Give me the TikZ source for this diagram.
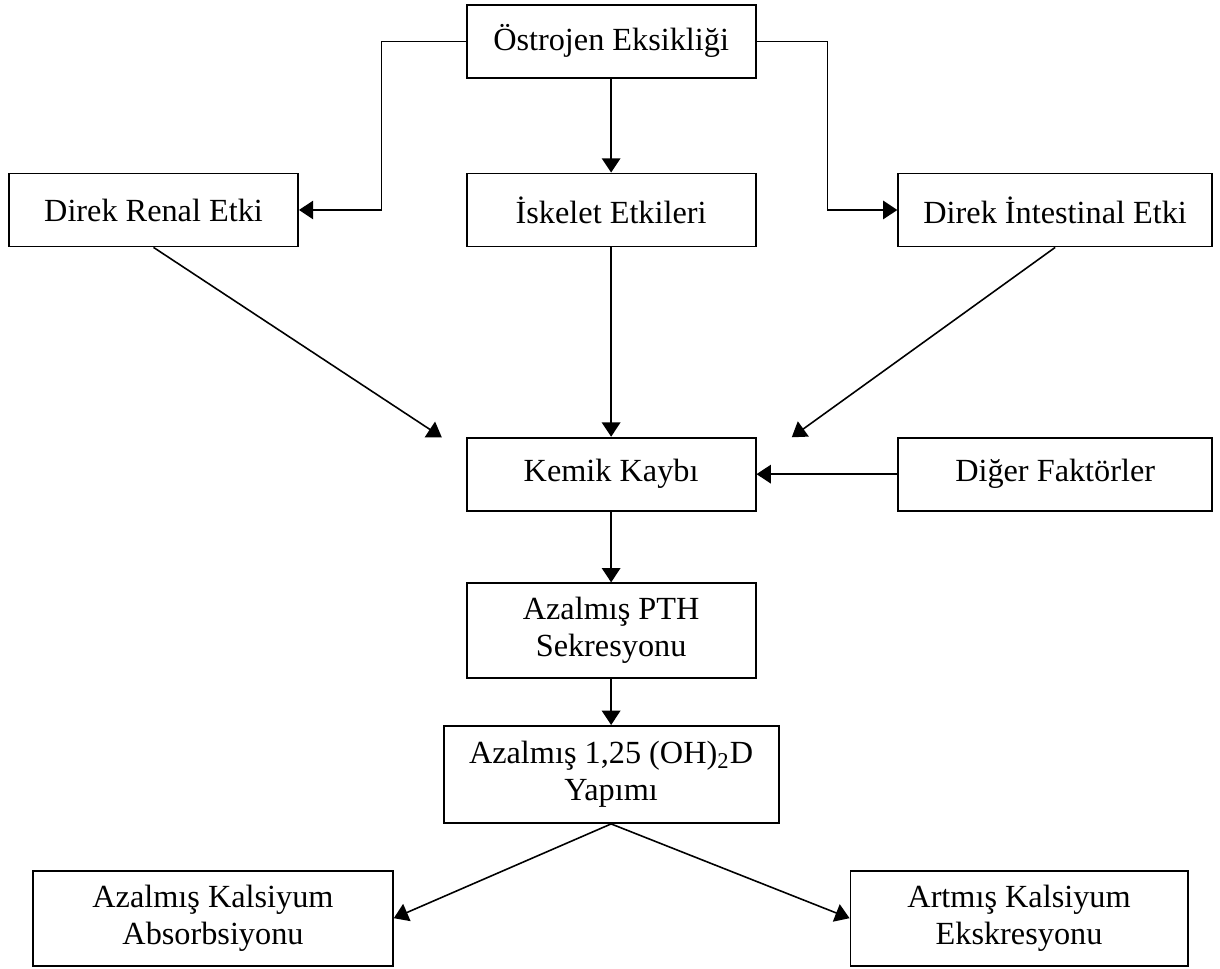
\documentclass[tikz,border=0pt]{standalone}
\usepackage{fontspec}
\setmainfont{Liberation Serif}
\usetikzlibrary{arrows.meta, positioning, calc}

\begin{document}
\begin{tikzpicture}[
    box/.style={draw, line width=0.7pt, minimum width=3.84cm, minimum height=0.97cm, align=center, inner sep=2pt},
    widebox/.style={box, minimum width=4.17cm},
    tallbox/.style={box, minimum height=1.26cm},
    arr/.style={-{Triangle[length=5.4pt, width=7pt]}, line width=0.6pt},
    every node/.style={font=\fontsize{12.2}{14}\selectfont}
  ]

    %% ── page frame (1220 x 969 px) ──
    \useasboundingbox (0,0) rectangle (16.21,-12.87);

    %% ── top row ──
    \node[box] (ostrojen) at (8.12, -0.55) {Östrojen Eksikliği};

    %% ── effects ──
    \node[box]     (renal)      at (2.04,  -2.79) {Direk Renal Etki};
    \node[box]     (iskelet)    at (8.12,  -2.79) {İskelet Etkileri};
    \node[widebox] (intestinal) at (14.02, -2.79) {Direk İntestinal Etki};

    %% ── bone loss ──
    \node[box]     (kemik) at (8.12,  -6.30) {Kemik Kaybı};
    \node[widebox] (diger) at (14.02, -6.30) {Diğer Faktörler};

    %% ── hormonal chain ──
    \node[tallbox] (pth) at (8.12, -8.38) {Azalmış PTH\\Sekresyonu};
    \node[tallbox, minimum width=4.45cm, minimum height=1.29cm] (yapim) at (8.12, -10.29)
      {Azalmış 1,25 (OH)\textsubscript{2}D\\Yapımı};

    %% ── outcomes ──
    \node[tallbox, minimum width=4.78cm] (absorb) at (2.83,  -12.20) {Azalmış Kalsiyum\\Absorbsiyonu};
    \node[tallbox, minimum width=4.48cm] (ekskr)  at (13.54, -12.20) {Artmış Kalsiyum\\Ekskresyonu};

    %% free arrow ends above Kemik Kaybı
    \coordinate (renalend) at (5.87, -5.81);
    \coordinate (intend)   at (10.52, -5.81);

    %% ═══════ ARROWS ═══════
    \draw[arr] (ostrojen.west) -- ++(-1.12,0) |- (renal.east);
    \draw[arr] (ostrojen.east) -- ++(0.94,0) |- (intestinal.west);
    \draw[arr] (ostrojen) -- (iskelet);

    \draw[arr] (renal.south) -- (renalend);
    \draw[arr] (iskelet) -- (kemik);
    \draw[arr] (intestinal.south) -- (intend);
    \draw[arr] (diger) -- (kemik);

    \draw[arr] (kemik) -- (pth);
    \draw[arr] (pth) -- (yapim);
    \draw[arr] (yapim.south) -- (absorb.east);
    \draw[arr] (yapim.south) -- (ekskr.west);

  \end{tikzpicture}
\end{document}
